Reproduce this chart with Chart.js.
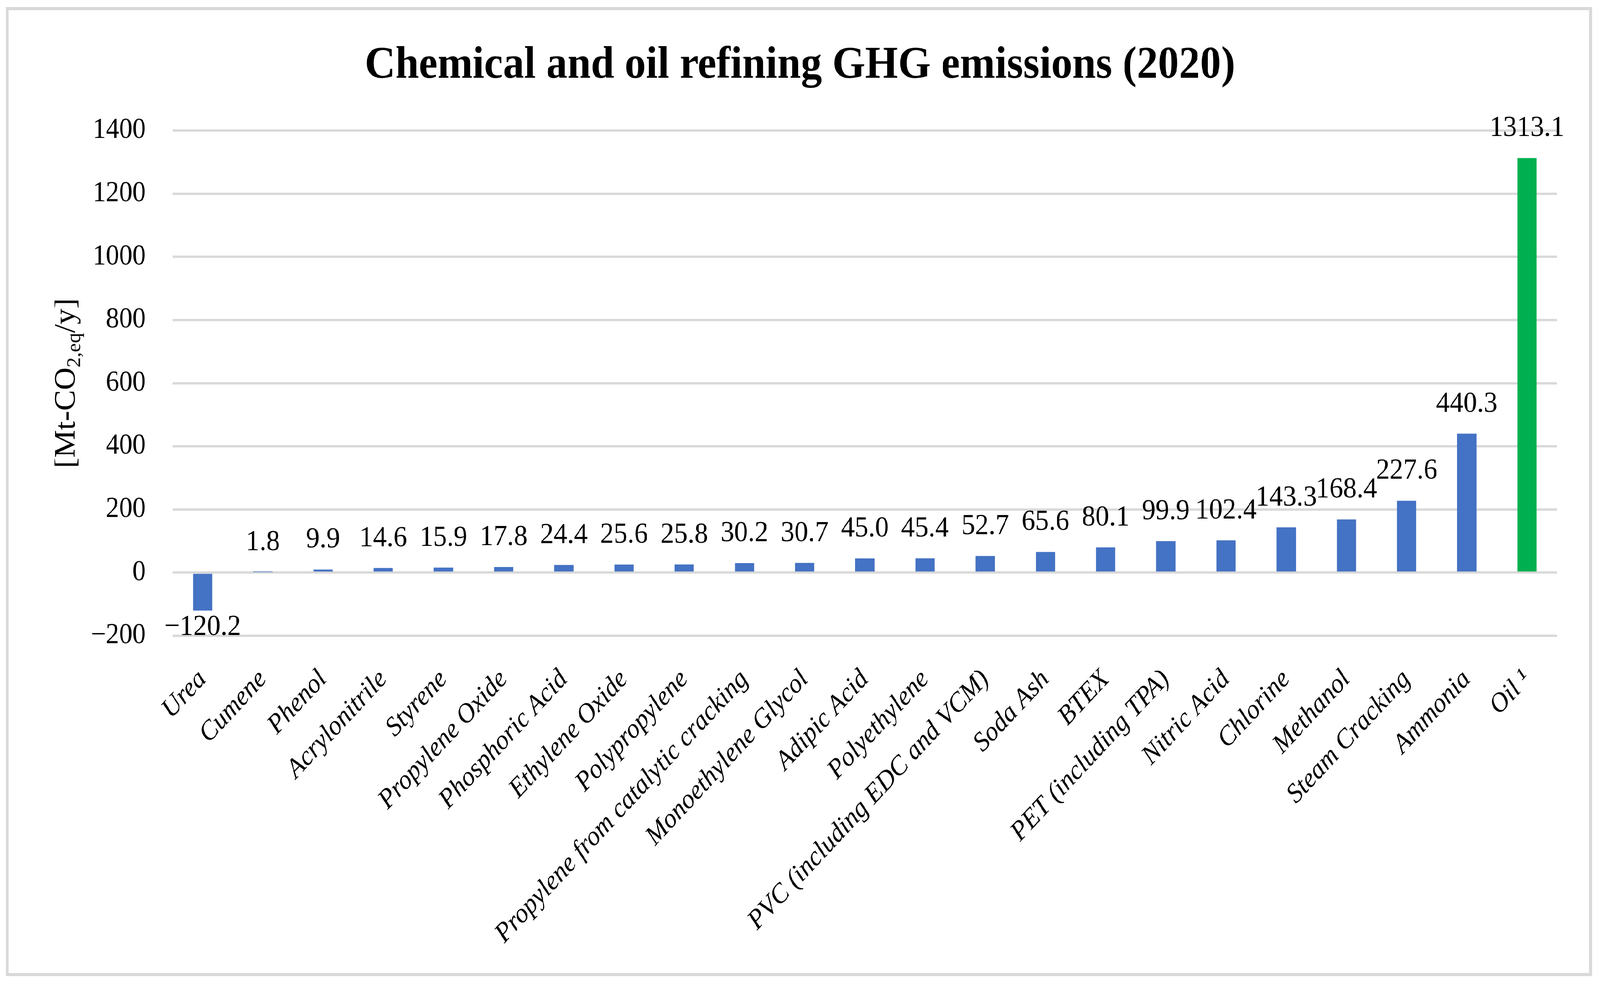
<!DOCTYPE html>
<html>
<head>
<meta charset="utf-8">
<script src="https://cdn.jsdelivr.net/npm/chart.js@4.4.1/dist/chart.umd.min.js"></script>
<style>
html, body { margin: 0; padding: 0; background: #fff; overflow: hidden; }
#lienzo { position: absolute; left: 0; top: 0; width: 4404px; height: 2513px; transform-origin: 0 0; }
#marco { position: absolute; left: 16px; top: 18px; width: 4366px; height: 2480px; box-sizing: border-box; border: 8px solid #d9d9d9; }
#grafico { position: absolute; left: 0; top: 0; }
</style>
</head>
<body>
<div id="lienzo">
  <div id="marco"></div>
  <canvas id="grafico" width="4404" height="2513"></canvas>
</div>
<script>
const categorias = ['Urea', 'Cumene', 'Phenol', 'Acrylonitrile', 'Styrene', 'Propylene Oxide', 'Phosphoric Acid',
    'Ethylene Oxide', 'Polypropylene', 'Propylene from catalytic cracking', 'Monoethylene Glycol', 'Adipic Acid',
    'Polyethylene', 'PVC (including EDC and VCM)', 'Soda Ash', 'BTEX', 'PET (including TPA)', 'Nitric Acid',
    'Chlorine', 'Methanol', 'Steam Cracking', 'Ammonia', 'Oil \u00B9'];
const emisiones = [-120.2, 1.8, 9.9, 14.6, 15.9, 17.8, 24.4, 25.6, 25.8, 30.2, 30.7, 45.0,
    45.4, 52.7, 65.6, 80.1, 99.9, 102.4, 143.3, 168.4, 227.6, 440.3, 1313.1];
const colores = ['#4472C4', '#4472C4', '#4472C4', '#4472C4', '#4472C4', '#4472C4', '#4472C4', '#4472C4',
    '#4472C4', '#4472C4', '#4472C4', '#4472C4', '#4472C4', '#4472C4', '#4472C4', '#4472C4', '#4472C4',
    '#4472C4', '#4472C4', '#4472C4', '#4472C4', '#4472C4', '#00B050'];
const ticksEje = [-200, 0, 200, 400, 600, 800, 1000, 1200, 1400];
const titulo = 'Chemical and oil refining GHG emissions (2020)';
const tituloY = [['[Mt-CO', 0], ['2,eq', 1], ['/y]', 0]];

const serif = '"Liberation Serif", "Times New Roman", serif';
const menos = (t) => String(t).replace('-', '\u2212');

// la ventana puede ser mas angosta que 4404: se comprime el dibujo en X
const ajuste = Math.min(1, window.innerWidth / 4404);
if (ajuste < 1) {
    document.getElementById('lienzo').style.transform = 'scale(' + ajuste + ', 1)';
}

// etiquetas de valor encima (o debajo) de cada barra
const etiquetasValor = {
    id: 'etiquetasValor',
    afterDatasetsDraw(chart) {
        const ctx = chart.ctx;
        const meta = chart.getDatasetMeta(0);
        ctx.save();
        ctx.font = '75px ' + serif;
        ctx.fillStyle = '#000';
        ctx.textAlign = 'center';
        ctx.textBaseline = 'alphabetic';
        meta.data.forEach((barra, i) => {
            const v = emisiones[i];
            const y = v >= 0 ? barra.y - 56 : barra.y + 62;
            ctx.fillText(menos(v.toFixed(1)), barra.x, y);
        });
        ctx.restore();
    }
};

// titulo del eje Y con subindice
const tituloEjeY = {
    id: 'tituloEjeY',
    afterDraw(chart) {
        const ctx = chart.ctx;
        const area = chart.chartArea;
        const grande = 80, chico = 52;
        ctx.save();
        ctx.translate(205, (area.top + area.bottom) / 2);
        ctx.rotate(-Math.PI / 2);
        ctx.fillStyle = '#000';
        ctx.textBaseline = 'alphabetic';
        ctx.textAlign = 'left';
        let total = 0;
        const anchos = tituloY.map(([txt, sub]) => {
            ctx.font = (sub ? chico : grande) + 'px ' + serif;
            const w = ctx.measureText(txt).width;
            total += w;
            return w;
        });
        let x = -total / 2;
        tituloY.forEach(([txt, sub], i) => {
            ctx.font = (sub ? chico : grande) + 'px ' + serif;
            ctx.fillText(txt, x, sub ? 15 : 0);
            x += anchos[i];
        });
        ctx.restore();
    }
};

const ctx = document.getElementById('grafico').getContext('2d');
const myChart = new Chart(ctx, {
    type: 'bar',
    data: {
        labels: categorias,
        datasets: [{
            data: emisiones,
            backgroundColor: colores,
            borderWidth: 0,
            barPercentage: 0.32,
            categoryPercentage: 1.0
        }]
    },
    options: {
        responsive: false,
        animation: false,
        devicePixelRatio: 1,
        layout: { padding: { left: 118, right: 118, top: 0, bottom: 0 } },
        plugins: {
            legend: { display: false },
            tooltip: { enabled: false },
            title: {
                display: true,
                text: titulo,
                color: '#000',
                font: { family: serif, size: 116, weight: 'bold', lineHeight: 1.2 },
                padding: { top: 99, bottom: 96 }
            }
        },
        scales: {
            x: {
                grid: { display: false, drawTicks: false },
                border: { display: false },
                ticks: {
                    autoSkip: false,
                    minRotation: 45,
                    maxRotation: 45,
                    padding: 71,
                    color: '#000',
                    font: { family: serif, size: 70, style: 'italic' }
                },
                afterFit(scale) { scale.height = 886; }
            },
            y: {
                min: ticksEje[0],
                max: ticksEje[ticksEje.length - 1],
                grid: { color: '#d9d9d9', lineWidth: 6, drawTicks: false },
                border: { display: false },
                ticks: {
                    stepSize: ticksEje[1] - ticksEje[0],
                    padding: 74,
                    color: '#000',
                    font: { family: serif, size: 73 },
                    callback: (v) => menos(v)
                },
                afterFit(scale) { scale.width = 357; }
            }
        }
    },
    plugins: [etiquetasValor, tituloEjeY]
});
</script>
</body>
</html>
